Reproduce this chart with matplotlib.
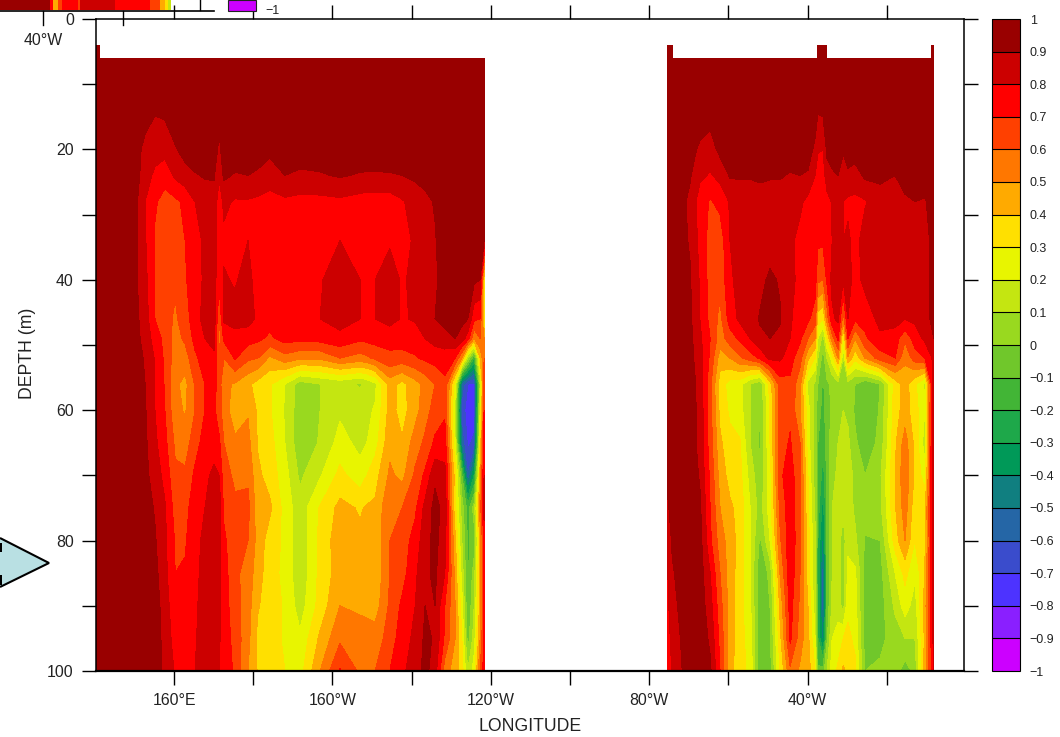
import numpy as np
import matplotlib
matplotlib.use("Agg")
import matplotlib.pyplot as plt
from matplotlib.colors import ListedColormap, BoundaryNorm
from matplotlib.patches import Polygon, Rectangle

plt.rcParams["font.family"] = ["Liberation Sans", "DejaVu Sans"]

nan = np.nan

# depth levels (m), one entry of every profile below per level
depth = [6, 14, 20, 24, 28, 34, 40, 46, 49, 52, 56, 60, 65, 70, 75, 80, 85, 90, 95, 100]

# Pacific section, longitudes in degrees east
pac_lon = [140.3, 141.3, 150.2, 152.7, 155.2, 157.7, 160.3, 162.8, 165.3, 167.8, 170.1, 171.4,
           172.6, 175.4, 178.7, 181.2, 184.2, 188.0, 191.8, 196.9, 201.9, 207.0, 208.7, 210.8, 214.5,
           217.6, 220.9, 223.4, 225.9, 228.4, 231.0, 232.7, 234.2, 235.8, 237.3, 238.3]
pac_top = [.97, .97] + [nan] * 34   # the 4 m level only exists in a few cells

pac_profiles = [
    [.97] * 20,
    [.97] * 20,
    [.97, .97, .96, .95, .93, .92, .92, .93, .93, .94, .95, .95, .96, .97, .97, .97, .97, .97, .97, .97],
    [.97, .96, .86, .84, .80, .81, .83, .85, .87, .89, .90, .91, .92, .93, .95, .96, .97, .97, .97, .97],
    [.97, .91, .84, .78, .71, .69, .69, .70, .75, .79, .80, .80, .82, .85, .89, .91, .93, .95, .96, .97],
    [.97, .92, .84, .73, .67, .65, .64, .65, .67, .68, .69, .70, .73, .77, .81, .82, .83, .85, .86, .87],
    [.97, .97, .89, .82, .68, .64, .62, .58, .56, .55, .52, .53, .58, .62, .66, .69, .70, .73, .76, .79],
    [.97, .97, .94, .86, .72, .70, .69, .66, .62, .55, .47, .49, .55, .62, .67, .69, .71, .73, .76, .79],
    [.97, .97, .97, .89, .80, .76, .75, .75, .73, .68, .61, .60, .66, .72, .75, .76, .77, .78, .79, .80],
    [.97, .97, .97, .91, .84, .82, .82, .84, .80, .75, .70, .70, .74, .78, .80, .83, .84, .85, .85, .85],
    [.97, .97, .97, .91, .86, .85, .85, .86, .83, .78, .74, .72, .76, .82, .88, .88, .88, .88, .88, .88],
    [.97, .94, .87, .81, .75, .74, .72, .60, .55, .62, .65, .64, .72, .80, .86, .85, .83, .82, .81, .80],
    [.97, .97, .97, .92, .82, .78, .81, .82, .72, .60, .52, .55, .60, .64, .68, .72, .74, .75, .76, .77],
    [.97, .97, .97, .89, .79, .74, .79, .83, .77, .71, .49, .44, .52, .58, .62, .63, .63, .64, .66, .68],
    [.97, .97, .97, .90, .79, .80, .84, .84, .74, .62, .42, .49, .53, .58, .63, .60, .55, .54, .53, .50],
    [.97, .97, .96, .88, .78, .74, .74, .78, .72, .60, .36, .38, .39, .42, .44, .46, .45, .41, .37, .39],
    [.97, .97, .93, .84, .77, .75, .74, .74, .68, .48, .31, .31, .34, .36, .42, .35, .33, .34, .33, .32],
    [.97, .97, .96, .90, .78, .74, .74, .73, .74, .56, .20, .19, .20, .24, .26, .28, .28, .29, .29, .30],
    [.97, .97, .96, .88, .77, .73, .72, .72, .73, .52, .05, .04, .03, .08, .14, .12, .12, .15, .22, .26],
    [.97, .97, .96, .89, .77, .74, .79, .80, .74, .52, .10, .10, .11, .19, .31, .33, .33, .34, .42, .50],
    [.97, .97, .97, .91, .78, .80, .86, .84, .77, .60, .13, .18, .24, .33, .43, .46, .45, .50, .58, .71],
    [.97, .97, .97, .89, .76, .77, .80, .80, .72, .56, .09, .15, .17, .24, .39, .42, .45, .48, .55, .58],
    [.97, .97, .96, .89, .75, .73, .75, .75, .73, .58, .12, .18, .20, .30, .41, .42, .44, .47, .55, .59],
    [.97, .97, .96, .89, .75, .74, .80, .80, .74, .62, .18, .21, .26, .36, .42, .42, .42, .45, .55, .60],
    [.97, .97, .97, .89, .75, .79, .84, .84, .73, .68, .44, .44, .47, .52, .59, .60, .60, .62, .64, .70],
    [.97, .97, .96, .90, .79, .73, .79, .79, .75, .66, .37, .36, .41, .47, .60, .65, .66, .72, .76, .78],
    [.97, .97, .97, .92, .84, .83, .82, .81, .75, .69, .46, .46, .55, .62, .68, .74, .78, .80, .82, .85],
    [.97, .97, .97, .94, .87, .86, .85, .85, .80, .72, .53, .56, .62, .72, .83, .86, .88, .90, .92, .93],
    [.97, .97, .97, .97, .91, .89, .88, .90, .84, .74, .60, .64, .72, .88, .93, .93, .92, .90, .89, .85],
    [.97, .97, .97, .97, .97, .97, .95, .93, .87, .74, .68, .68, .75, .83, .87, .84, .80, .70, .68, .55],
    [.97, .97, .97, .97, .97, .97, .96, .92, .90, .70, .25, .15, .20, .35, .33, .42, .47, .50, .50, .45],
    [.97, .97, .97, .97, .97, .97, .96, .93, .85, .50, -.55, -.65, -.55, -.10, .05, .10, .16, .24, .30, .35],
    [.97, .97, .97, .97, .97, .97, .95, .90, .75, .10, -.70, -.75, -.72, -.60, -.15, -.12, -.12, -.10, -.05, .10],
    [.97, .97, .97, .97, .97, .97, .92, .72, .50, -.20, -.72, -.75, -.68, -.30, .05, -.05, .05, .10, .15, .25],
    [.97, .97, .97, .97, .97, .97, .90, .70, .60, .40, .10, .20, .30, .45, .55, .45, .45, .45, .50, .60],
    [.97, .97, .97, .97, .97, .90, .35, .30, .50, .60, .65, .70, .80, .80, .85, .72, .72, .72, .72, .75],
]

# Atlantic section
atl_lon = [284.7, 285.8, 290.3, 292.8, 295.4, 297.9, 300.4, 302.9, 305.5, 308.0, 310.5, 313.0,
           315.6, 318.1, 320.1, 321.9, 322.6, 323.9, 324.9, 326.2, 327.7, 329.0, 330.2, 332.0,
           334.5, 338.3, 342.1, 344.6, 347.1, 349.6, 351.4, 351.9]
atl_top = [.97, .97] + [nan] * 14 + [.97, .97, .97] + [nan] * 11 + [.97, .97]

atl_profiles = [
    [.97] * 13 + [.92, .89, .85, .80, .78, .75, .72],
    [.97] * 13 + [.96, .93, .91, .89, .87, .84, .81],
    [.97, .97, .94, .91, .88, .89, .91, .92, .93, .93, .94, .95, .95, .96, .96, .97, .97, .97, .97, .97],
    [.97, .97, .88, .82, .75, .77, .79, .80, .82, .85, .87, .87, .87, .89, .92, .94, .95, .96, .97, .97],
    [.97, .95, .85, .79, .69, .66, .66, .67, .70, .68, .63, .64, .65, .68, .70, .72, .80, .84, .88, .92],
    [.97, .97, .93, .83, .73, .64, .63, .57, .55, .45, .35, .37, .42, .46, .50, .55, .60, .64, .67, .70],
    [.97, .97, .97, .91, .81, .80, .78, .75, .65, .50, .26, .28, .33, .36, .42, .45, .45, .45, .45, .44],
    [.97, .97, .97, .91, .85, .84, .84, .82, .72, .58, .24, .24, .31, .33, .36, .36, .35, .34, .34, .33],
    [.97, .97, .97, .91, .84, .84, .84, .85, .80, .65, .10, .10, .10, .16, .20, .20, .20, .22, .25, .28],
    [.97, .97, .95, .92, .85, .84, .87, .91, .88, .72, .02, .00, -.02, .02, .05, -.02, -.09, -.09, -.09, -.09],
    [.97, .97, .97, .91, .85, .85, .92, .93, .90, .83, .35, .30, .30, .25, .25, .20, .03, .00, -.02, -.05],
    [.97, .97, .97, .91, .85, .84, .89, .91, .88, .82, .65, .65, .66, .68, .62, .58, .50, .42, .36, .30],
    [.97, .97, .97, .89, .83, .82, .82, .81, .80, .74, .68, .68, .71, .75, .76, .77, .77, .74, .72, .58],
    [.97, .97, .96, .90, .82, .77, .78, .76, .72, .64, .53, .50, .60, .62, .63, .63, .60, .58, .55, .48],
    [.97, .97, .94, .89, .77, .75, .76, .72, .60, .42, .17, .24, .25, .30, .32, .34, .35, .40, .43, .45],
    [.97, .95, .88, .80, .74, .73, .75, .65, .50, .30, .08, .05, .05, .05, .08, .12, .10, .15, .20, .30],
    [.97, .91, .81, .75, .73, .72, .62, .35, .20, .10, .00, -.05, -.10, -.10, -.15, -.20, -.20, -.20, -.20, -.08],
    [.97, .92, .80, .75, .75, .72, .60, .30, .05, -.05, -.12, -.14, -.17, -.25, -.35, -.45, -.60, -.60, -.45, -.05],
    [.97, .97, .92, .86, .76, .75, .72, .55, .30, .10, -.02, -.05, -.05, -.08, -.10, -.10, -.10, -.08, -.02, .10],
    [.97, .97, .96, .88, .81, .80, .83, .78, .55, .25, .02, .02, .05, .07, .10, .10, .10, .12, .20, .25],
    [.97, .97, .95, .90, .85, .84, .85, .82, .72, .50, .05, .08, .10, .12, .14, .14, .14, .15, .25, .32],
    [.97, .97, .91, .86, .80, .80, .81, .55, .25, .10, .10, .10, .12, .12, .12, .05, .06, .06, .30, .42],
    [.97, .97, .95, .88, .78, .82, .84, .80, .70, .48, .05, .08, .12, .15, .15, .18, .22, .28, .32, .37],
    [.97, .97, .96, .85, .78, .76, .76, .72, .50, .33, .00, -.02, .02, .07, .08, .12, .22, .25, .28, .32],
    [.97, .97, .97, .92, .79, .85, .83, .74, .68, .50, -.08, -.09, -.07, .00, .05, -.01, -.04, -.06, -.05, .00],
    [.97, .97, .97, .92, .86, .85, .85, .83, .78, .65, .00, .01, .03, .08, .07, .00, -.04, -.05, -.03, .02],
    [.97, .97, .96, .90, .85, .84, .84, .84, .75, .70, .34, .36, .38, .40, .39, .35, .20, .12, .05, .05],
    [.97, .97, .97, .95, .88, .87, .86, .80, .62, .52, .45, .44, .55, .58, .55, .50, .33, .25, .10, -.05],
    [.97, .97, .97, .95, .90, .86, .86, .82, .75, .65, .32, .35, .37, .38, .33, .30, .22, .15, .10, .03],
    [.97, .97, .97, .96, .89, .86, .86, .85, .82, .70, .18, .20, .15, .25, .38, .38, .40, .45, .42, .45],
    [.97, .97, .97, .97, .94, .92, .92, .92, .88, .80, .75, .75, .78, .78, .78, .75, .75, .75, .75, .72],
    [.97, .97, .97, .97, .97, .96, .95, .95, .90, .85, .85, .85, .85, .85, .85, .85, .85, .85, .85, .82],
]

levels = [round(-1 + 0.1 * i, 1) for i in range(21)]
level_labels = ["\u22121", "\u22120.9", "\u22120.8", "\u22120.7", "\u22120.6", "\u22120.5", "\u22120.4",
                "\u22120.3", "\u22120.2", "\u22120.1", "0", "0.1", "0.2", "0.3", "0.4", "0.5", "0.6",
                "0.7", "0.8", "0.9", "1"]
band_colors = ["#CC00FF", "#8A1FFF", "#4D33FF", "#3A4CCC", "#2566A6", "#107F80", "#009958", "#1EA84A",
               "#42B536", "#70C72B", "#99D91F", "#C4E611", "#E8F500", "#FFE000", "#FFAA00", "#FF7700",
               "#FF4000", "#FF0000", "#CC0000", "#990000"]

lon_ticks = [160, 180, 200, 220, 240, 260, 280, 300, 320, 340]
lon_labels = ["160\u00b0E", "", "160\u00b0W", "", "120\u00b0W", "", "80\u00b0W", "", "40\u00b0W", ""]
depth_ticks = [0, 20, 40, 60, 80, 100]
depth_minor = [10, 30, 50, 70, 90]

# leftovers of the neighbouring panel, cut off along the top of the page
strip_edges = [0, 50, 53, 58, 62, 78, 80, 115, 150, 160, 165, 168, 171]
strip_values = [.95, .75, .45, .65, .75, .65, .85, .75, .6, .45, .3, .15]

cmap = ListedColormap(band_colors)
norm = BoundaryNorm(levels, cmap.N)

fig = plt.figure(figsize=(10.6, 7.37), dpi=100)
W, H = 1060.0, 737.0
ax = fig.add_axes([96 / W, 1 - 671 / H, (964 - 96) / W, (671 - 19) / H])

pac = np.vstack([pac_top, np.array(pac_profiles).T])
atl = np.vstack([atl_top, np.array(atl_profiles).T])
z = [4] + depth

cf = ax.contourf(pac_lon, z, pac, levels=levels, cmap=cmap, norm=norm, antialiased=False, corner_mask=False)
ax.contourf(atl_lon, z, atl, levels=levels, cmap=cmap, norm=norm, antialiased=False, corner_mask=False)

ax.set_xlim(140.3, 359.5)
ax.set_ylim(100, 0)
ax.set_xticks(lon_ticks)
ax.set_xticklabels(lon_labels, fontsize=11.4, color="#222222")
ax.set_yticks(depth_ticks)
ax.set_yticklabels([str(d) for d in depth_ticks], fontsize=11.4, color="#222222")
ax.set_yticks(depth_minor, minor=True)
ax.tick_params(axis="both", which="both", direction="out", length=10, width=1.0,
               top=True, right=True, pad=6)
ax.set_xlabel("LONGITUDE", fontsize=12.7, color="#222222", labelpad=7)
ax.set_ylabel("DEPTH (m)", fontsize=12.7, color="#222222", labelpad=8, y=0.488)
for s in ax.spines.values():
    s.set_linewidth(1.1)
ax.spines["bottom"].set_linewidth(1.6)

cax = fig.add_axes([992 / W, 1 - 671 / H, 28 / W, (671 - 19) / H])
cb = fig.colorbar(cf, cax=cax, drawedges=True, spacing="proportional")
cb.set_ticks(levels)
cb.set_ticklabels(level_labels)
cb.ax.tick_params(length=0, labelsize=9, pad=7, labelcolor="#222222")
cb.ax.minorticks_off()
cb.outline.set_linewidth(0.8)
cb.dividers.set_linewidth(0.8)

# page-level overlay in pixel coordinates
over = fig.add_axes([0, 0, 1, 1], facecolor="none")
over.set_xlim(0, W)
over.set_ylim(H, 0)
over.axis("off")
over.pcolormesh(strip_edges, [0, 10], [strip_values], cmap=cmap, norm=norm)
over.plot([0, 214], [10.5, 10.5], color="black", lw=1.2)
over.plot([43, 43], [11, 25], color="black", lw=1.0)
over.plot([123, 123], [11, 25], color="black", lw=1.0)
over.plot([200, 200], [0, 10], color="black", lw=1.0)
over.add_patch(Rectangle((228, 0), 28, 11, facecolor="#CC00FF", edgecolor="#222222", lw=0.8))
over.text(265, 11, "\u22121", fontsize=9, va="center", color="#222222")
over.text(43, 40, "40\u00b0W", fontsize=11.4, ha="center", va="center", color="#222222")
over.add_patch(Polygon([(0, 538), (49, 563), (0, 587)], closed=False, facecolor="#B9E0E3",
                       edgecolor="black", lw=1.5))
over.add_patch(Rectangle((0, 543), 2, 9, facecolor="black"))
over.add_patch(Rectangle((0, 575), 2, 10, facecolor="black"))

fig.savefig("out.png", dpi=100)
